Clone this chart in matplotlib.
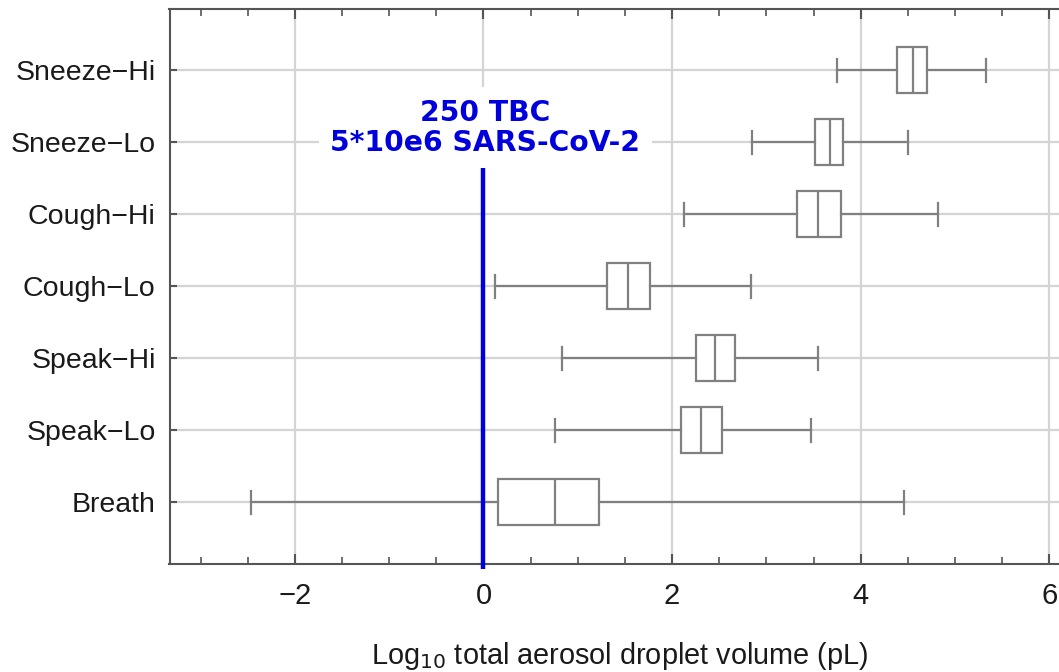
import matplotlib
matplotlib.use("Agg")
import matplotlib.pyplot as plt
from matplotlib.ticker import MultipleLocator

# ---- data ----
categories = ["Breath", "Speak\u2212Lo", "Speak\u2212Hi", "Cough\u2212Lo",
              "Cough\u2212Hi", "Sneeze\u2212Lo", "Sneeze\u2212Hi"]
whisker_lo = [-2.47, 0.76, 0.83, 0.12, 2.13, 2.85, 3.75]
q1         = [0.15, 2.09, 2.25, 1.31, 3.32, 3.52, 4.39]
median     = [0.76, 2.31, 2.45, 1.53, 3.55, 3.67, 4.55]
q3         = [1.23, 2.53, 2.67, 1.77, 3.79, 3.81, 4.70]
whisker_hi = [4.46, 3.47, 3.55, 2.84, 4.82, 4.50, 5.33]
threshold = 0.0
annotation = "250 TBC\n5*10e6 SARS-CoV-2"
x_ticks = [-2, 0, 2, 4, 6]

plt.rcParams["font.family"] = ["Liberation Sans", "DejaVu Sans"]

fig = plt.figure(figsize=(10.59, 6.72), dpi=100)
W, H = 1059, 672
left_px, right_px, top_px, bot_px = 169.5, 1070, 9, 563.5
ax = fig.add_axes([left_px / W, 1 - bot_px / H,
                   (right_px - left_px) / W, (bot_px - top_px) / H])

stats = []
for i, c in enumerate(categories):
    stats.append(dict(label=c, whislo=whisker_lo[i], q1=q1[i], med=median[i],
                      q3=q3[i], whishi=whisker_hi[i], fliers=[]))

gray = "#808080"
lw = 1.6
ax.bxp(stats, positions=range(len(categories)), vert=False, widths=0.64,
       showfliers=False, patch_artist=True,
       boxprops=dict(facecolor="white", edgecolor=gray, linewidth=lw),
       medianprops=dict(color=gray, linewidth=lw),
       whiskerprops=dict(color=gray, linewidth=lw),
       capprops=dict(color=gray, linewidth=lw), zorder=3)

ax.set_xlim(-3.33, 6.22)
ax.set_ylim(-0.85, 6.85)
ax.set_xticks(x_ticks)
ax.set_xticklabels([f"{t}".replace("-", "\u2212") for t in x_ticks])
ax.xaxis.set_minor_locator(MultipleLocator(0.5))
ax.set_yticks(range(len(categories)))
ax.set_yticklabels(categories)

ax.grid(True, which="major", color="#d4d4d4", linewidth=1.6, zorder=0)
ax.set_axisbelow(True)

for s in ax.spines.values():
    s.set_color("#555555")
    s.set_linewidth(1.5)

ax.tick_params(axis="x", which="major", direction="in", length=7, width=1.5,
               color="#555555", top=True, bottom=True, labelsize=21,
               labelcolor="#1a1a1a", pad=13)
ax.tick_params(axis="x", which="minor", direction="in", length=5, width=1.2,
               color="#555555", top=True, bottom=True)
ax.tick_params(axis="y", which="major", direction="in", length=5, width=1.5,
               color="#555555", left=True, right=False, labelsize=20.5,
               labelcolor="#1a1a1a", pad=10)

ax.set_xlabel("Log$_{10}$ total aerosol droplet volume (pL)", fontsize=20.8,
              color="#1a1a1a", labelpad=22)

# threshold line + annotation
ax.plot([threshold, threshold], [-0.92, 4.66], color="#0000dd", linewidth=3.2,
        clip_on=False, zorder=5, solid_capstyle="butt")
ax.text(threshold + 0.02, 5.20, annotation, ha="center", va="center",
        fontsize=20.3, fontweight="bold", color="#0000dd",
        family="DejaVu Sans", linespacing=1.1, zorder=6,
        bbox=dict(facecolor="white", edgecolor="none",
                  boxstyle="square,pad=0.4"))

fig.savefig("out.png", dpi=100)
